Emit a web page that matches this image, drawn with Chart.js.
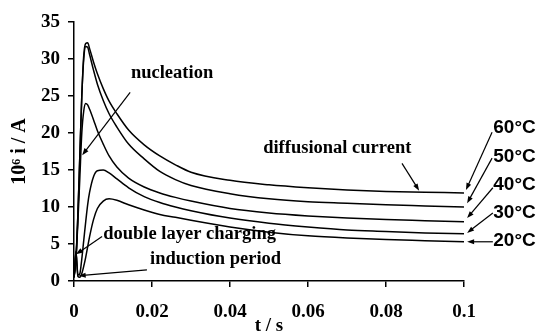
<!DOCTYPE html>
<html lang="en">
<head>
<meta charset="UTF-8">
<title>Current transients</title>
<script src="https://cdn.jsdelivr.net/npm/chart.js"></script>
<style>
  body { margin: 0; background: #fff; }
  canvas { display: block; }
</style>
</head>
<body>
<canvas id="chart" width="541" height="333"></canvas>
<script>
// time (s) and current (10^6 i / A)
const times = [0, 0.0005, 0.001, 0.0015, 0.002, 0.0025, 0.003, 0.0035, 0.004, 0.005, 0.006, 0.0075, 0.009,
               0.011, 0.014, 0.018, 0.022, 0.026, 0.03, 0.04, 0.05, 0.06, 0.07, 0.08, 0.09, 0.1];
const i60 = [0.5, 3, 9, 17, 25, 30.5, 32.1, 32.2, 31.4, 29.6, 28, 26, 24.3, 22.6, 20.4, 18.4, 16.9, 15.7, 14.7, 13.6, 13.0, 12.6, 12.3, 12.1, 12.0, 11.9];
const i50 = [0.5, 3, 9, 17, 25, 30, 31.7, 31.6, 30.6, 28.5, 26.6, 24.4, 22.6, 20.8, 18.5, 16.5, 14.8, 13.7, 12.9, 11.8, 11.1, 10.7, 10.5, 10.3, 10.15, 10.0];
const i40 = [0.5, 3, 8, 14, 20, 23, 24, 23.8, 23.2, 21.8, 20.3, 18.5, 16.9, 15.4, 13.9, 12.7, 11.9, 11.3, 10.8, 9.8, 9.2, 8.8, 8.5, 8.3, 8.15, 8.0];
const i30 = [0.5, 4, 0.8, 1, 3, 5.5, 8, 10.3, 12, 14.1, 14.9, 15, 14.6, 13.8, 12.6, 11.4, 10.6, 10.0, 9.5, 8.5, 7.8, 7.3, 6.9, 6.7, 6.5, 6.4];
const i20 = [0.5, 4, 0.6, 0.5, 1, 2, 3.2, 4.6, 6, 8.3, 9.8, 10.8, 11.1, 10.9, 10.3, 9.6, 9.0, 8.6, 8.2, 7.3, 6.6, 6.1, 5.8, 5.6, 5.45, 5.3];

const tempLabels = ['60°C', '50°C', '40°C', '30°C', '20°C'];
const xTicks = [0, 0.02, 0.04, 0.06, 0.08, 0.1];
const xTickLabels = ['0', '0.02', '0.04', '0.06', '0.08', '0.1'];
const yTicks = [0, 5, 10, 15, 20, 25, 30, 35];
const yTickLabels = ['0', '5', '10', '15', '20', '25', '30', '35'];

// callouts, in data units (t, i)
const notes = [
  { text: 'nucleation', at: [0.0146, 28.1], from: [0.0144, 25.5], to: [0.0021, 17.0] },
  { text: 'diffusional current', at: [0.0485, 18.0], from: [0.0841, 15.9], to: [0.0885, 12.2] },
  { text: 'double layer charging', at: [0.0075, 6.35], from: [0.0072, 6.0], to: [0.0005, 3.6] },
  { text: 'induction period', at: [0.0195, 3.0], from: [0.0187, 1.5], to: [0.0012, 0.7] }
];
const tempNotes = [
  { at: [0.1075, 20.7], from: [0.1072, 20.1], to: [0.1005, 12.3] },
  { at: [0.1075, 16.8], from: [0.1072, 16.6], to: [0.1008, 10.5] },
  { at: [0.1075, 12.97], from: [0.1074, 12.6], to: [0.1008, 8.5] },
  { at: [0.1075, 9.19], from: [0.1074, 9.2], to: [0.1008, 6.5] },
  { at: [0.1075, 5.4], from: [0.1074, 5.3], to: [0.1008, 5.3] }
];

const series = [i60, i50, i40, i30, i20];

function arrow(ctx, x1, y1, x2, y2) {
  const a = Math.atan2(y2 - y1, x2 - x1);
  const len = 7, w = 2.5;
  ctx.beginPath();
  ctx.moveTo(x1, y1);
  ctx.lineTo(x2 - len * 0.6 * Math.cos(a), y2 - len * 0.6 * Math.sin(a));
  ctx.stroke();
  ctx.beginPath();
  ctx.moveTo(x2, y2);
  ctx.lineTo(x2 - len * Math.cos(a) + w * Math.sin(a), y2 - len * Math.sin(a) - w * Math.cos(a));
  ctx.lineTo(x2 - len * Math.cos(a) - w * Math.sin(a), y2 - len * Math.sin(a) + w * Math.cos(a));
  ctx.closePath();
  ctx.fill();
}

const callouts = {
  id: 'callouts',
  afterDraw(chart) {
    const ctx = chart.ctx;
    const xs = chart.scales.x, ys = chart.scales.y;
    const px = v => xs.getPixelForValue(v);
    const py = v => ys.getPixelForValue(v);
    ctx.save();
    ctx.fillStyle = '#000';
    ctx.strokeStyle = '#000';
    ctx.lineWidth = 1.2;
    ctx.textBaseline = 'middle';
    ctx.textAlign = 'left';
    ctx.font = 'bold 18.5px "Liberation Serif", "Times New Roman", serif';
    notes.forEach(n => {
      ctx.fillText(n.text, px(n.at[0]), py(n.at[1]));
      arrow(ctx, px(n.from[0]), py(n.from[1]), px(n.to[0]), py(n.to[1]));
    });
    ctx.font = 'bold 19px "Liberation Sans", Arial, sans-serif';
    tempNotes.forEach((n, k) => {
      ctx.fillText(tempLabels[k], px(n.at[0]), py(n.at[1]));
      arrow(ctx, px(n.from[0]), py(n.from[1]), px(n.to[0]), py(n.to[1]));
    });
    ctx.restore();
  }
};

const tickFont = { family: '"Liberation Serif", "Times New Roman", serif', size: 19, weight: 'bold' };

new Chart(document.getElementById('chart'), {
  type: 'line',
  data: {
    datasets: series.map((s, k) => ({
      label: tempLabels[k],
      data: times.map((t, j) => ({ x: t, y: s[j] })),
      borderColor: '#000',
      borderWidth: 1.5,
      pointRadius: 0,
      fill: false,
      cubicInterpolationMode: 'monotone'
    }))
  },
  options: {
    responsive: false,
    animation: false,
    devicePixelRatio: 1,
    layout: { padding: { top: 22, right: 77, left: 0, bottom: 0 } },
    plugins: { legend: { display: false }, tooltip: { enabled: false } },
    scales: {
      x: {
        type: 'linear',
        min: 0,
        max: 0.1,
        afterFit: s => { s.height = 52; },
        afterBuildTicks: s => { s.ticks = xTicks.map(v => ({ value: v })); },
        ticks: {
          color: '#000',
          font: tickFont,
          padding: 14,
          maxRotation: 0,
          callback: v => xTickLabels[xTicks.indexOf(v)]
        },
        grid: { drawOnChartArea: false, drawTicks: true, tickLength: 6, color: '#000', lineWidth: 1.5 },
        border: { color: '#000', width: 1.5 },
        title: {
          display: true,
          text: 't / s',
          color: '#000',
          font: { family: tickFont.family, size: 19, weight: 'bold', lineHeight: 1 },
          padding: { top: 0, bottom: -3 }
        }
      },
      y: {
        min: 0,
        max: 35,
        afterFit: s => { s.width = 74; },
        afterBuildTicks: s => { s.ticks = yTicks.map(v => ({ value: v })); },
        ticks: {
          color: '#000',
          font: tickFont,
          padding: 8,
          callback: v => yTickLabels[yTicks.indexOf(v)]
        },
        grid: { drawOnChartArea: false, drawTicks: true, tickLength: 6, color: '#000', lineWidth: 1.5 },
        border: { color: '#000', width: 1.5 },
        title: {
          display: true,
          text: '10⁶ i / A',
          color: '#000',
          font: { family: tickFont.family, size: 20, weight: 'bold' },
          padding: { top: 8, bottom: 0 }
        }
      }
    }
  },
  plugins: [callouts]
});
</script>
</body>
</html>
